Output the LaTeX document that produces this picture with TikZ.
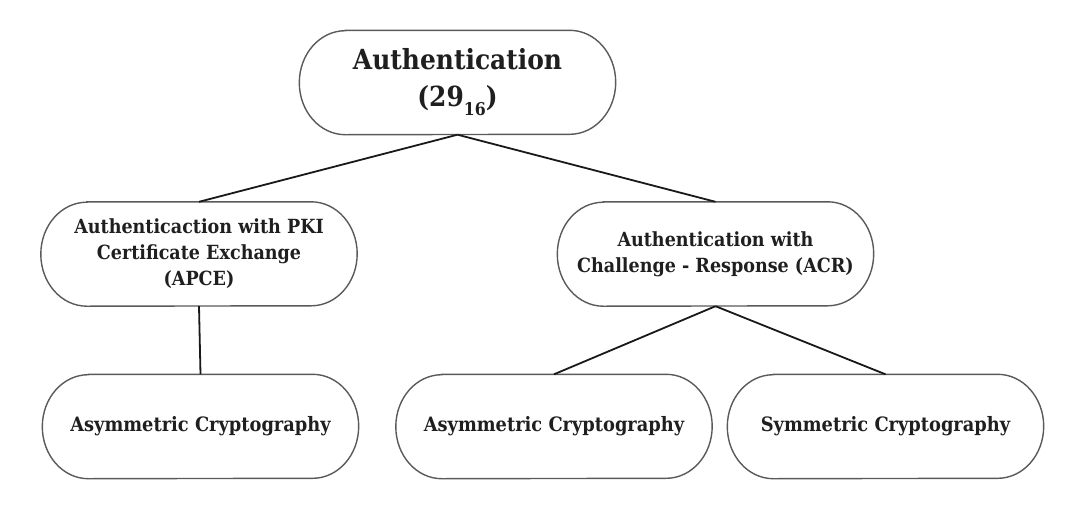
\documentclass[tikz,border=0pt]{standalone}
\usepackage{fontspec}
\setmainfont{DejaVu Serif}[FakeStretch=0.9]
\definecolor{pillgray}{HTML}{5A5A5A}
\tikzset{
  x=1pt, y=1pt,
  pillnode/.style={minimum width=316pt, minimum height=104pt, inner sep=0pt, align=center, text=black!88},
  toptext/.style={font=\fontsize{27.7}{37}\selectfont\bfseries},
  midtext/.style={font=\fontsize{19.5}{26}\selectfont\bfseries},
  lowtext/.style={font=\fontsize{19.8}{26}\selectfont\bfseries},
  pillline/.style={draw=pillgray, line width=1.4pt},
  conn/.style={draw=black!90, line width=1.8pt}
}
\newcommand\pillshape[1]{%
  \draw[pillline] ([xshift=46pt]#1.north west) -- ([xshift=-46pt]#1.north east)
    arc[start angle=90, end angle=-90, x radius=46pt, y radius=52pt]
    -- ([xshift=46pt]#1.south west)
    arc[start angle=270, end angle=90, x radius=46pt, y radius=52pt] -- cycle;}
\begin{document}
\begin{tikzpicture}
\useasboundingbox (0,0) rectangle (1080,-507);
\fill[white] (0,0) rectangle (1080,-507);
\node[pillnode, toptext] (auth) at (457.5,-82.5) {Authentication\\(29{\fontsize{17.5}{17.5}\selectfont\raisebox{-9pt}{16}})};
\node[pillnode, midtext] (apce) at (199,-254) {Authenticaction with PKI\\Certificate Exchange\\(APCE)};
\node[pillnode, midtext] (acr) at (715.5,-254) {Authentication with\\Challenge - Response (ACR)};
\node[pillnode, lowtext] (asym1) at (200.5,-426.5) {Asymmetric Cryptography};
\node[pillnode, lowtext] (asym2) at (554,-426.5) {Asymmetric Cryptography};
\node[pillnode, lowtext] (sym) at (885.5,-426.5) {Symmetric Cryptography};
\pillshape{auth}
\pillshape{apce}
\pillshape{acr}
\pillshape{asym1}
\pillshape{asym2}
\pillshape{sym}
\draw[conn] (auth.south) -- (apce.north);
\draw[conn] (auth.south) -- (acr.north);
\draw[conn] (apce.south) -- (asym1.north);
\draw[conn] (acr.south) -- (asym2.north);
\draw[conn] (acr.south) -- (sym.north);
\end{tikzpicture}
\end{document}
